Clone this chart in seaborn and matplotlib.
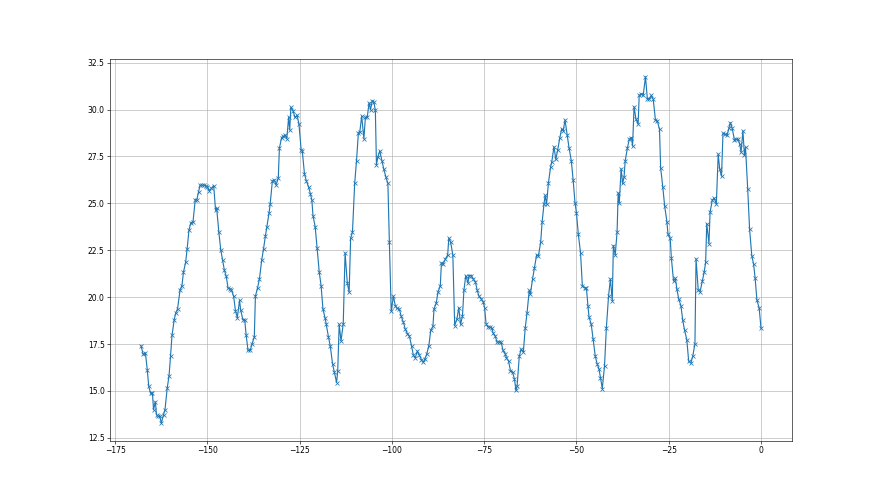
import matplotlib
matplotlib.use("Agg")
import matplotlib.pyplot as plt
import seaborn as sns

# hours relative to now
hours = [
    -168.0, -167.4, -166.8, -166.3, -165.9, -165.4, -164.9, -164.6, -164.1, -163.8,
    -163.3, -162.9, -162.5, -161.9, -161.5, -160.9, -160.4, -160.0, -159.6, -159.0,
    -158.6, -158.1, -157.4, -156.9, -156.5, -155.9, -155.5, -155.0, -154.5, -153.9,
    -153.3, -152.9, -152.4, -152.0, -151.4, -150.9, -150.4, -150.0, -149.5, -148.9,
    -148.3, -147.8, -147.5, -146.9, -146.4, -145.9, -145.4, -144.9, -144.4, -143.8,
    -143.5, -142.9, -142.4, -141.9, -141.3, -141.0, -140.4, -139.9, -139.5, -139.0,
    -138.4, -137.9, -137.3, -137.0, -136.4, -135.9, -135.3, -134.8, -134.3, -133.9,
    -133.3, -133.0, -132.4, -131.9, -131.4, -130.8, -130.5, -129.9, -129.4, -128.9,
    -128.5, -128.0,
    -127.7, -127.4, -126.8, -126.3, -125.7, -125.2, -124.6, -124.3, -123.7, -123.2,
    -122.6, -122.1, -121.7, -121.4, -120.8, -120.3, -119.7, -119.2, -118.7, -118.1,
    -117.8, -117.2, -116.7, -116.1, -115.6, -115.0, -114.7, -114.3, -113.8, -113.2,
    -112.7, -112.1, -111.6, -111.2, -110.7, -110.1, -109.6, -109.1, -108.7, -108.2,
    -107.6, -107.2, -106.7, -106.2, -105.8, -105.3, -104.9, -104.5, -104.2, -103.8,
    -103.3, -102.7, -102.2, -101.6, -101.1, -100.7, -100.2, -99.6, -99.1, -98.6,
    -98.0, -97.5, -96.9, -96.4, -95.8, -95.3, -94.7, -94.2, -93.7, -93.1,
    -92.6, -92.0, -91.5, -91.1, -90.6, -90.0, -89.5, -88.9, -88.6, -88.0,
    -87.5, -86.9, -86.6, -86.1, -85.5, -84.9, -84.6, -84.1, -83.5, -83.0,
    -82.4, -81.9,
    -81.4, -80.9, -80.5, -80.0, -79.4, -79.1, -78.5, -78.0, -77.4, -76.9,
    -76.4, -75.8, -75.3, -74.9, -74.5, -74.0, -73.5, -72.9, -72.6, -72.0,
    -71.5, -70.9, -70.4, -69.9, -69.3, -69.0, -68.4, -67.9, -67.3, -66.8,
    -66.4, -66.1, -65.5, -65.0, -64.4, -63.9, -63.4, -62.8, -62.5, -61.9,
    -61.4, -60.8, -60.3, -59.7, -59.3, -58.8, -58.5, -58.1, -57.6, -57.0,
    -56.7, -56.1, -55.6, -55.1, -54.5, -54.0, -53.6, -53.1, -52.5, -52.0,
    -51.4, -50.9, -50.4, -50.0, -49.5, -48.9, -48.4, -47.8, -47.3, -46.9,
    -46.6, -46.0, -45.5, -44.9, -44.4, -43.9, -43.5, -43.0, -42.4, -41.9,
    -41.3, -40.8, -40.3, -40.0, -39.5, -39.0, -38.7,
    -38.4, -37.9, -37.5, -37.1, -36.8, -36.2, -35.7, -35.1, -34.8, -34.4,
    -33.9, -33.3, -33.0, -32.4, -31.9, -31.3, -30.8, -30.3, -29.7, -29.2,
    -28.6, -28.1, -27.5, -27.2, -26.6, -26.1, -25.5, -25.2, -24.6, -24.3,
    -23.7, -23.2, -22.8, -22.3, -21.7, -21.2, -20.7, -20.1, -19.6, -19.0,
    -18.5, -17.9, -17.6, -17.0, -16.5, -15.9, -15.4, -15.0, -14.7, -14.1,
    -13.8, -13.2, -12.7, -12.1, -11.6, -11.2, -10.7, -10.3, -9.8, -9.2,
    -8.7, -8.3, -7.8, -7.2, -6.7, -6.2, -5.8, -5.4, -4.9, -4.5,
    -4.2, -3.6, -3.1, -2.5, -2.0, -1.6, -1.1, -0.5, 0.0,
]

temps = [
    17.41, 16.95, 17.02, 16.13, 15.24, 14.88, 14.88, 14.00, 14.42, 13.73,
    13.64, 13.64, 13.28, 13.73, 14.00, 15.15, 15.81, 16.84, 17.96, 18.80,
    19.15, 19.37, 20.40, 20.61, 21.33, 21.86, 22.57, 23.57, 23.96, 24.03,
    25.20, 25.17, 25.61, 25.97, 25.97, 25.97, 25.93, 25.88, 25.67, 25.81,
    25.95, 24.63, 24.74, 23.46, 22.54, 21.97, 21.43, 21.11, 20.47, 20.44,
    20.37, 20.05, 19.26, 18.91, 19.83, 19.33, 18.80, 18.80, 17.96, 17.16,
    17.16, 17.52, 17.87, 20.05, 20.51, 20.97, 21.97, 22.57, 23.25, 23.75,
    24.49, 24.96, 26.20, 26.24, 25.99, 26.34, 27.94, 28.51, 28.58, 28.62,
    28.44, 29.58,
    28.91, 30.12, 29.94, 29.58, 29.69, 29.23, 27.84, 27.80, 26.56, 26.20,
    25.88, 25.52, 25.17, 24.35, 23.75, 22.64, 21.33, 20.61, 19.37, 18.87,
    18.55, 17.87, 17.38, 16.45, 15.99, 15.45, 16.06, 18.55, 17.66, 18.59,
    22.36, 20.76, 20.26, 23.14, 23.46, 26.06, 27.27, 28.76, 28.83, 29.65,
    28.44, 29.58, 29.58, 30.36, 30.00, 30.47, 30.40, 29.97, 27.06, 27.48,
    27.80, 27.27, 26.81, 26.38, 26.06, 22.93, 19.26, 20.05, 19.55, 19.40,
    19.37, 18.98, 18.66, 18.30, 18.05, 17.94, 17.41, 16.91, 16.77, 17.13,
    16.91, 16.66, 16.52, 16.70, 16.95, 17.41, 18.23, 18.44, 19.37, 19.69,
    20.29, 20.61, 21.82, 21.79, 22.04, 22.25, 23.14, 22.93, 22.25, 18.48,
    18.83, 19.44,
    18.55, 18.98, 20.36, 21.15, 20.76, 21.15, 21.15, 20.97, 20.83, 20.36,
    20.05, 19.90, 19.76, 19.44, 18.59, 18.41, 18.41, 18.34, 18.09, 17.91,
    17.59, 17.62, 17.59, 17.16, 16.98, 16.77, 16.59, 16.09, 15.99, 15.63,
    15.03, 15.24, 16.84, 17.23, 17.06, 18.34, 19.15, 20.36, 20.15, 20.97,
    21.54, 22.25, 22.22, 22.93, 24.03, 24.96, 25.42, 24.96, 26.09, 26.95,
    27.20, 28.02, 27.34, 27.84, 28.51, 28.98, 28.87, 29.44, 28.62, 27.94,
    27.27, 26.24, 25.03, 24.49, 23.35, 22.36, 20.58, 20.51, 20.47, 19.55,
    18.94, 18.55, 17.77, 16.84, 16.45, 16.17, 15.70, 15.13, 16.34, 18.37,
    20.08, 20.97, 19.80, 22.75, 22.25, 23.46, 25.56,
    25.03, 26.84, 26.06, 26.41, 27.27, 27.94, 28.41, 28.51, 28.05, 30.15,
    29.51, 29.23, 30.76, 30.83, 30.79, 31.75, 30.58, 30.54, 30.76, 30.54,
    29.44, 29.40, 28.94, 26.91, 25.85, 24.85, 24.03, 23.35, 23.14, 22.11,
    20.86, 21.01, 20.44, 19.90, 19.55, 18.76, 18.23, 17.73, 16.59, 16.49,
    16.84, 17.52, 22.04, 20.36, 20.29, 20.86, 21.33, 21.86, 23.92, 22.86,
    24.53, 25.17, 25.28, 24.96, 27.62, 26.84, 26.45, 28.73, 28.69, 28.62,
    29.01, 29.30, 29.01, 28.37, 28.41, 28.41, 28.19, 27.73, 28.87, 27.59,
    27.98, 25.77, 23.64, 22.22, 21.75, 21.04, 19.83, 19.44, 18.34,
]

assert len(hours) == len(temps), (len(hours), len(temps))

# 16x9 inches at 55 dpi -> 880x495 px, matplotlib default sizes otherwise
fig, ax = plt.subplots(figsize=(16, 9), dpi=55)

sns.lineplot(
    x=hours,
    y=temps,
    ax=ax,
    color="#1f77b4",
    linewidth=1.5,
    marker="x",
    markersize=6,
    markeredgecolor="#1f77b4",
    markeredgewidth=1.0,
)

ax.grid(True, color="#b0b0b0", linewidth=0.8)

fig.savefig("out.png", dpi=55)
